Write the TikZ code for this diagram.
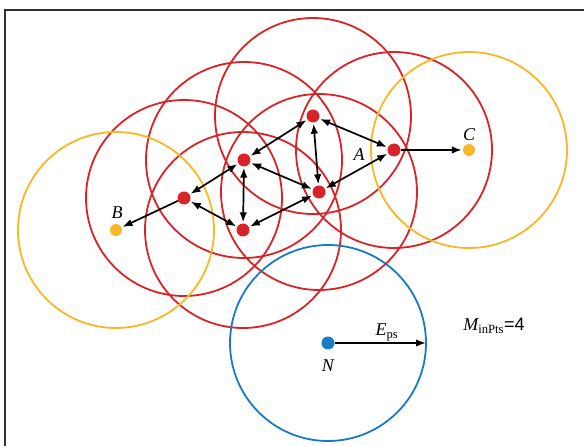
\documentclass[tikz,border=0pt]{standalone}
\usepackage{fontspec}
\setmainfont{Liberation Serif}
\setsansfont{Liberation Sans}
\usetikzlibrary{arrows.meta,backgrounds}
\definecolor{corered}{RGB}{216,36,40}
\definecolor{edgeyellow}{RGB}{246,184,38}
\definecolor{noiseblue}{RGB}{28,122,196}

\begin{document}
\begin{tikzpicture}[
  x=1pt, y=-1pt,
  dot/.style={circle, inner sep=0pt, minimum size=13pt},
  coredot/.style={dot, fill=corered},
  borderdot/.style={dot, fill=edgeyellow, minimum size=12pt},
  noisedot/.style={dot, fill=noiseblue},
  ring/.style={line width=1.8pt},
  lbl/.style={font=\fontsize{18}{20}\selectfont\itshape, inner sep=1pt},
  arrow/.style={-{Latex[length=10pt,width=7.5pt]}, line width=1.7pt, shorten >=1pt},
  twoway/.style={arrow, {Latex[length=10pt,width=7.5pt]}-{Latex[length=10pt,width=7.5pt]}, shorten <=1pt}
]
\useasboundingbox (0,0) rectangle (584,446);
\def\eps{98}

% points
\node[coredot] (p1) at (313,116) {};
\node[coredot] (p2) at (244,160) {};
\node[coredot] (p3) at (184,198) {};
\node[coredot] (p4) at (243,230) {};
\node[coredot] (p5) at (319,192) {};
\node[coredot] (a) at (394,150) {};
\node[borderdot] (b) at (116,230) {};
\node[borderdot] (c) at (469,150) {};
\node[noisedot] (n) at (328,343) {};
\coordinate (nedge) at (426,343);

% neighbourhoods
\begin{scope}[on background layer]
\fill[white] (0,0) rectangle (584,446);
\draw[line width=1.5pt, black!80] (584,10) -- (5,10) -- (5,446);
\foreach \p in {p1,p2,p3,p4,p5,a}
  \draw[ring, corered] (\p) circle[radius=\eps];
\draw[ring, edgeyellow] (b) circle[radius=\eps];
\draw[ring, edgeyellow] (c) circle[radius=\eps];
\draw[ring, noiseblue] (n) circle[radius=\eps];
\end{scope}

% reachability
\draw[twoway] (p1) -- (p2);
\draw[twoway] (p1) -- (a);
\draw[twoway] (p1) -- (p5);
\draw[twoway] (p2) -- (p3);
\draw[twoway] (p2) -- (p4);
\draw[twoway] (p2) -- (p5);
\draw[twoway] (p5) -- (a);
\draw[twoway] (p3) -- (p4);
\draw[twoway] (p4) -- (p5);
\draw[arrow] (p3) -- (b);
\draw[arrow] (a) -- (c);
\draw[arrow, shorten >=0pt] (n) -- (nedge);

% labels
\node[lbl] (la) at (359,155) {A};
\node[lbl] (lb) at (117,213) {B};
\node[lbl] (lc) at (469,135) {C};
\node[lbl] (ln) at (328,366) {N};
\node[lbl, anchor=south] (le) at (387,342) {E\textsubscript{\upshape ps}};
\node[lbl] (lm) at (494,326) {M\textsubscript{\upshape inPts}{\upshape\sffamily =4}};
\end{tikzpicture}
\end{document}
